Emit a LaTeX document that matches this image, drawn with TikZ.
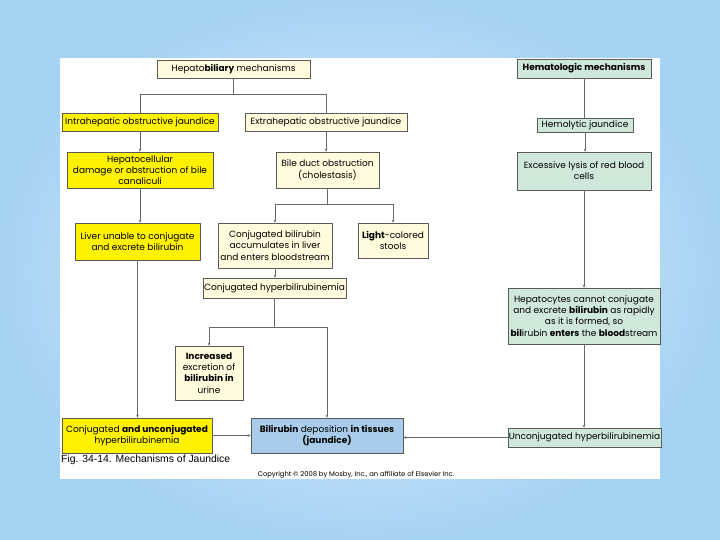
\documentclass[tikz,border=0pt]{standalone}
\usepackage{fontspec}
\setmainfont{Poppins}
\newfontfamily\capfont{Liberation Sans}
\usetikzlibrary{arrows.meta}
\definecolor{hepyellow}{RGB}{255,242,0}
\definecolor{hepcream}{RGB}{255,251,220}
\definecolor{hemgreen}{RGB}{208,232,218}
\definecolor{depblue}{RGB}{168,204,234}
\definecolor{boxline}{RGB}{90,90,90}
\definecolor{linkgray}{RGB}{105,105,105}
\definecolor{bgblue}{RGB}{166,210,244}
\definecolor{bgpale}{RGB}{234,245,253}
\begin{document}
\begin{tikzpicture}[x=1pt, y=-1pt,
  box/.style={draw=boxline, line width=0.6pt, inner sep=1pt, align=center, font=\fontsize{9}{11.2}\selectfont},
  ybox/.style={box, fill=hepyellow},
  cbox/.style={box, fill=hepcream},
  gbox/.style={box, fill=hemgreen},
  link/.style={draw=linkgray, line width=0.6pt},
  arr/.style={link, -{Stealth[length=3pt, width=2.6pt]}}]
\useasboundingbox (0,0) rectangle (720,540);
\shade[inner color=bgpale, outer color=bgblue] (0,0) rectangle (720,540);
\fill[white] (60,58) rectangle (660,479);
\node[cbox, minimum width=153, minimum height=18] (hepbil) at (233.5,69) {Hepato\textbf{biliary} mechanisms};
\node[gbox, minimum width=134, minimum height=19] (hemato) at (584,68.5) {\textbf{Hematologic mechanisms}};
\node[ybox, minimum width=156, minimum height=18] (intra) at (140,122) {Intrahepatic obstructive jaundice};
\node[cbox, minimum width=162, minimum height=18] (extra) at (326,122) {Extrahepatic obstructive jaundice};
\node[gbox, minimum width=96, minimum height=14] (hemol) at (585,125) {Hemolytic jaundice};
\node[ybox, minimum width=146, minimum height=36] (hepcell) at (140,170) {Hepatocellular\\damage or obstruction of bile\\canaliculi};
\node[cbox, minimum width=103, minimum height=36] (bileduct) at (327.5,170) {Bile duct obstruction\\(cholestasis)};
\node[gbox, minimum width=134, minimum height=38] (lysis) at (584,171) {Excessive lysis of red blood\\cells};
\node[ybox, minimum width=125, minimum height=37] (liver) at (137.5,241.5) {Liver unable to conjugate\\and excrete bilirubin};
\node[cbox, minimum width=114, minimum height=45] (conjacc) at (275,245.5) {Conjugated bilirubin\\accumulates in liver\\and enters bloodstream};
\node[cbox, minimum width=70, minimum height=35] (stools) at (393,240.5) {\textbf{Light}-colored\\stools};
\node[cbox, minimum width=141, minimum height=20] (conjhyp) at (274.5,288) {Conjugated hyperbilirubinemia};
\node[gbox, minimum width=152, minimum height=56] (hepatoc) at (584,316) {Hepatocytes cannot conjugate\\and excrete \textbf{bilirubin} as rapidly\\as it is formed, so\\\textbf{bil}irubin \textbf{enters} the \textbf{blood}stream};
\node[cbox, minimum width=68, minimum height=54] (urine) at (209,373) {\textbf{Increased}\\excretion of\\\textbf{bilirubin in}\\urine};
\node[ybox, minimum width=150, minimum height=35] (bothhyp) at (137,435.5) {Conjugated \textbf{and unconjugated}\\hyperbilirubinemia};
\node[box, fill=depblue, minimum width=152, minimum height=35] (deposit) at (327,435.5) {\textbf{Bilirubin} deposition \textbf{in tissues}\\\textbf{(jaundice)}};
\node[gbox, minimum width=151, minimum height=19] (unconj) at (584.5,437.5) {Unconjugated hyperbilirubinemia};
\node[anchor=west, inner sep=0pt, font=\capfont\fontsize{10.4}{12}\selectfont] (figcap) at (61,460) {Fig. 34-14. Mechanisms of Jaundice};
\node[inner sep=0pt, font=\fontsize{6.8}{8}\selectfont] (copyright) at (356,475) {Copyright \textcopyright{} 2008 by Mosby, Inc., an affiliate of Elsevier Inc.};
\path (hepbil.south) ++(0,16) coordinate (hbsplit);
\path (bileduct.south) ++(0,16) coordinate (bdsplit);
\path (conjhyp.south) ++(0,29) coordinate (chsplit);
\draw[link] (hepbil.south) -- (hbsplit) -| (intra.north) (hbsplit) -| (extra.north);
\draw[arr] (intra.south) -- (intra.south |- hepcell.north);
\draw[arr] (hepcell.south) -- (hepcell.south |- liver.north);
\draw[arr] (liver.south) -- (liver.south |- bothhyp.north);
\draw[arr] (extra.south) -- (extra.south |- bileduct.north);
\draw[link] (bileduct.south) -- (bdsplit);
\draw[arr] (bdsplit) -| (conjacc.north);
\draw[arr] (bdsplit) -| (stools.north);
\draw[arr] (conjacc.south) -- (conjacc.south |- conjhyp.north);
\draw[link] (conjhyp.south) -- (chsplit);
\draw[arr] (chsplit) -| (urine.north);
\draw[arr] (chsplit) -| (deposit.north);
\draw[arr] (bothhyp) -- (deposit);
\draw[link] (hemato.south) -- (hemato.south |- hemol.north);
\draw[arr] (hemol.south) -- (hemol.south |- lysis.north);
\draw[arr] (lysis.south) -- (lysis.south |- hepatoc.north);
\draw[arr] (hepatoc.south) -- (hepatoc.south |- unconj.north);
\draw[arr] (unconj.west) -- (unconj.west -| deposit.east);
\end{tikzpicture}
\end{document}
